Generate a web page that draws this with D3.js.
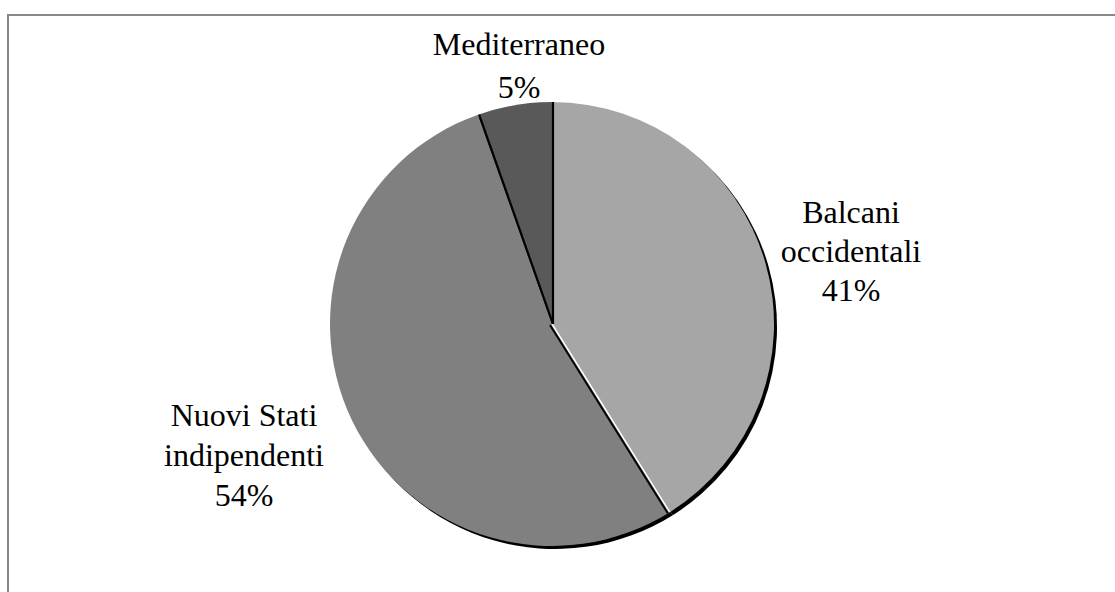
<!DOCTYPE html>
<html>
<head>
<meta charset="utf-8">
<script src="https://cdn.jsdelivr.net/npm/d3@7"></script>
<style>
  html, body { margin: 0; padding: 0; background: #fff; }
  svg { display: block; }
  text { font-family: "Liberation Serif", "Times New Roman", serif; fill: #000; }
</style>
</head>
<body>
<svg id="chart" width="1115" height="592"></svg>
<script>
// Share of funding by region
const regions = ["Balcani occidentali", "Nuovi Stati indipendenti", "Mediterraneo"];
const shares = [41.1, 53.5, 5.4];
const labelLines = [["Balcani", "occidentali", "41%"], ["Nuovi Stati", "indipendenti", "54%"], ["Mediterraneo", "5%"]];
const fills = ["#a6a6a6", "#808080", "#595959"];

const W = 1115, H = 592;
const svg = d3.select("#chart");

// chart area frame (runs off the right and bottom edges)
svg.append("rect")
  .attr("x", 8).attr("y", 15)
  .attr("width", W + 20).attr("height", H + 20)
  .attr("fill", "none").attr("stroke", "#888").attr("stroke-width", 2);

const cx = 552, cy = 324, r = 222;
const data = regions.map((name, i) => ({ name, value: shares[i], lines: labelLines[i], fill: fills[i] }));

const pie = d3.pie().value(d => d.value).sort(null);
const arcs = pie(data);
const arc = d3.arc().innerRadius(0).outerRadius(r);

const g = svg.append("g").attr("transform", `translate(${cx},${cy})`);

// drop shadow under the pie
g.append("g").attr("transform", "translate(3,3)")
  .selectAll("path").data(arcs).join("path")
  .attr("d", arc).attr("fill", "#000");

// slices
g.selectAll("path.slice").data(arcs).join("path")
  .attr("class", "slice")
  .attr("d", arc)
  .attr("fill", d => d.data.fill);

// slice edges: dark rule beside each boundary, light highlight on the lighter side
const edge = a => [[0, 0], [r * Math.sin(a), -r * Math.cos(a)]];
const line = d3.line();
// boundary Balcani / Nuovi
const a1 = arcs[0].endAngle;
g.append("path").attr("d", line(edge(a1)))
  .attr("transform", "translate(-2,1)")
  .attr("stroke", "#000").attr("stroke-width", 2).attr("fill", "none");
g.append("path").attr("d", line(edge(a1)))
  .attr("stroke", "#fff").attr("stroke-width", 1.5).attr("fill", "none");
// boundary Nuovi / Mediterraneo
const a2 = arcs[1].endAngle;
g.append("path").attr("d", line(edge(a2)))
  .attr("transform", "translate(1,0)")
  .attr("stroke", "#000").attr("stroke-width", 2.2).attr("fill", "none");
// boundary Mediterraneo / Balcani (top)
g.append("path").attr("d", line(edge(0)))
  .attr("transform", "translate(1,0)")
  .attr("stroke", "#000").attr("stroke-width", 2.2).attr("fill", "none");

// labels
const labelPos = [
  { x: 851, y: 223, step: 39 },
  { x: 244, y: 426, step: 40 },
  { x: 519, y: 55, step: 43 }
];
const fs = 32;
data.forEach((d, i) => {
  const p = labelPos[i];
  const t = svg.append("text")
    .attr("text-anchor", "middle")
    .attr("font-size", fs);
  d.lines.forEach((s, j) => {
    t.append("tspan").attr("x", p.x).attr("y", p.y + j * p.step).text(s);
  });
});
</script>
</body>
</html>
